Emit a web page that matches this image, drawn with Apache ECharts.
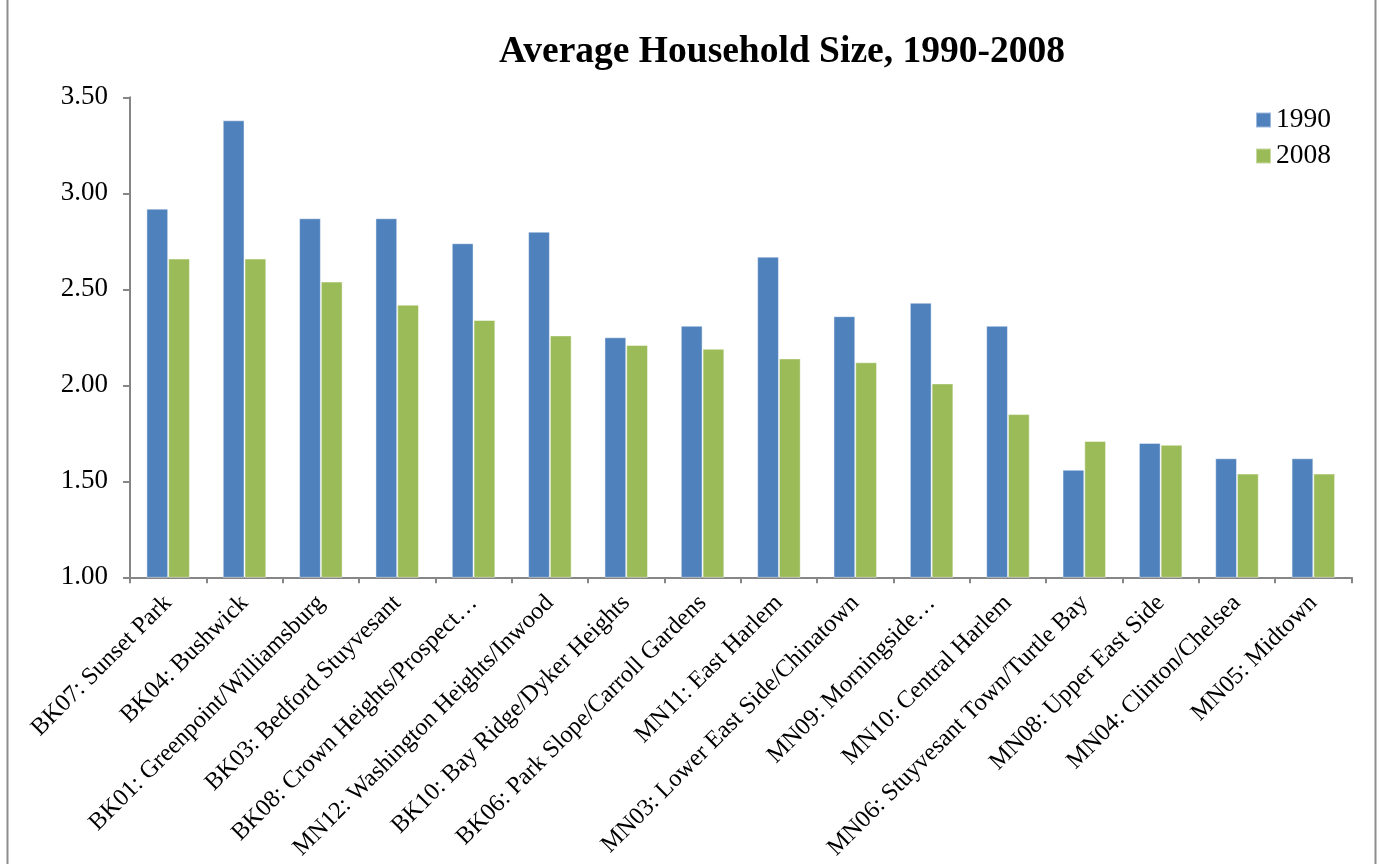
<!DOCTYPE html>
<html>
<head>
<meta charset="utf-8">
<title>Average Household Size, 1990-2008</title>
<script src="https://cdn.jsdelivr.net/npm/echarts@6/dist/echarts.min.js"></script>
<style>
  html, body { margin: 0; padding: 0; background: #ffffff; }
  #chart { width: 1382px; height: 864px; }
</style>
</head>
<body>
<div id="chart"></div>
<script>
// Community districts, ordered as plotted
const districts = [
  'BK07: Sunset Park',
  'BK04: Bushwick',
  'BK01: Greenpoint/Williamsburg',
  'BK03: Bedford Stuyvesant',
  'BK08: Crown Heights/Prospect\u2026',
  'MN12: Washington Heights/Inwood',
  'BK10: Bay Ridge/Dyker Heights',
  'BK06: Park Slope/Carroll Gardens',
  'MN11: East Harlem',
  'MN03: Lower East Side/Chinatown',
  'MN09: Morningside\u2026',
  'MN10: Central Harlem',
  'MN06: Stuyvesant Town/Turtle Bay',
  'MN08: Upper East Side',
  'MN04: Clinton/Chelsea',
  'MN05: Midtown'
];

// Average persons per household
const size1990 = [2.92, 3.38, 2.87, 2.87, 2.74, 2.80, 2.25, 2.31, 2.67, 2.36, 2.43, 2.31, 1.56, 1.70, 1.62, 1.62];
const size2008 = [2.66, 2.66, 2.54, 2.42, 2.34, 2.26, 2.21, 2.19, 2.14, 2.12, 2.01, 1.85, 1.71, 1.69, 1.54, 1.54];

const seriesNames = ['1990', '2008'];
const seriesColors = ['#4F81BD', '#9BBB59'];

const FONT = '"Liberation Serif", "Times New Roman", serif';
const AXIS_GREY = '#868686';

const chart = echarts.init(document.getElementById('chart'), null, { renderer: 'canvas' });

chart.setOption({
  backgroundColor: '#ffffff',
  animation: false,
  title: {
    text: 'Average Household Size, 1990-2008',
    left: 494,
    top: 28,
    textStyle: { fontFamily: FONT, fontSize: 37.5, fontWeight: 'bold', color: '#000000' }
  },
  legend: {
    orient: 'vertical',
    left: 1255,
    top: 106,
    padding: 0,
    itemWidth: 15,
    itemHeight: 15,
    itemGap: 8,
    icon: 'rect',
    data: seriesNames,
    textStyle: { fontFamily: FONT, fontSize: 27.5, color: '#000000' }
  },
  grid: {
    left: 130,
    right: 30.5,
    top: 97.3,
    bottom: 286.7,
    containLabel: false
  },
  xAxis: {
    type: 'category',
    data: districts,
    boundaryGap: true,
    axisLine: { show: true, lineStyle: { color: AXIS_GREY, width: 2 } },
    axisTick: { show: true, length: 6, lineStyle: { color: AXIS_GREY, width: 2 } },
    axisLabel: {
      interval: 0,
      rotate: 45,
      margin: 22,
      fontFamily: FONT,
      fontSize: 24.5,
      color: '#000000'
    },
    splitLine: { show: false }
  },
  yAxis: {
    type: 'value',
    min: 1,
    max: 3.5,
    interval: 0.5,
    axisLine: { show: true, lineStyle: { color: AXIS_GREY, width: 2 } },
    axisTick: { show: true, length: 7, lineStyle: { color: AXIS_GREY, width: 2 } },
    axisLabel: {
      margin: 22,
      fontFamily: FONT,
      fontSize: 27,
      color: '#000000',
      formatter: v => v.toFixed(2)
    },
    splitLine: { show: false }
  },
  series: [
    {
      name: seriesNames[0],
      type: 'bar',
      data: size1990,
      barGap: '0%',
      barCategoryGap: '43%',
      itemStyle: { color: seriesColors[0], borderColor: 'rgba(255,255,255,0.45)', borderWidth: 1 }
    },
    {
      name: seriesNames[1],
      type: 'bar',
      data: size2008,
      barGap: '0%',
      barCategoryGap: '43%',
      itemStyle: { color: seriesColors[1], borderColor: 'rgba(255,255,255,0.45)', borderWidth: 1 }
    }
  ],
  graphic: [
    {
      // chart area frame
      type: 'rect',
      silent: true,
      z: -1,
      shape: { x: 7.5, y: -2, width: 1368, height: 880 },
      style: { fill: 'none', stroke: '#8c8c8c', lineWidth: 2 }
    }
  ]
});
</script>
</body>
</html>
